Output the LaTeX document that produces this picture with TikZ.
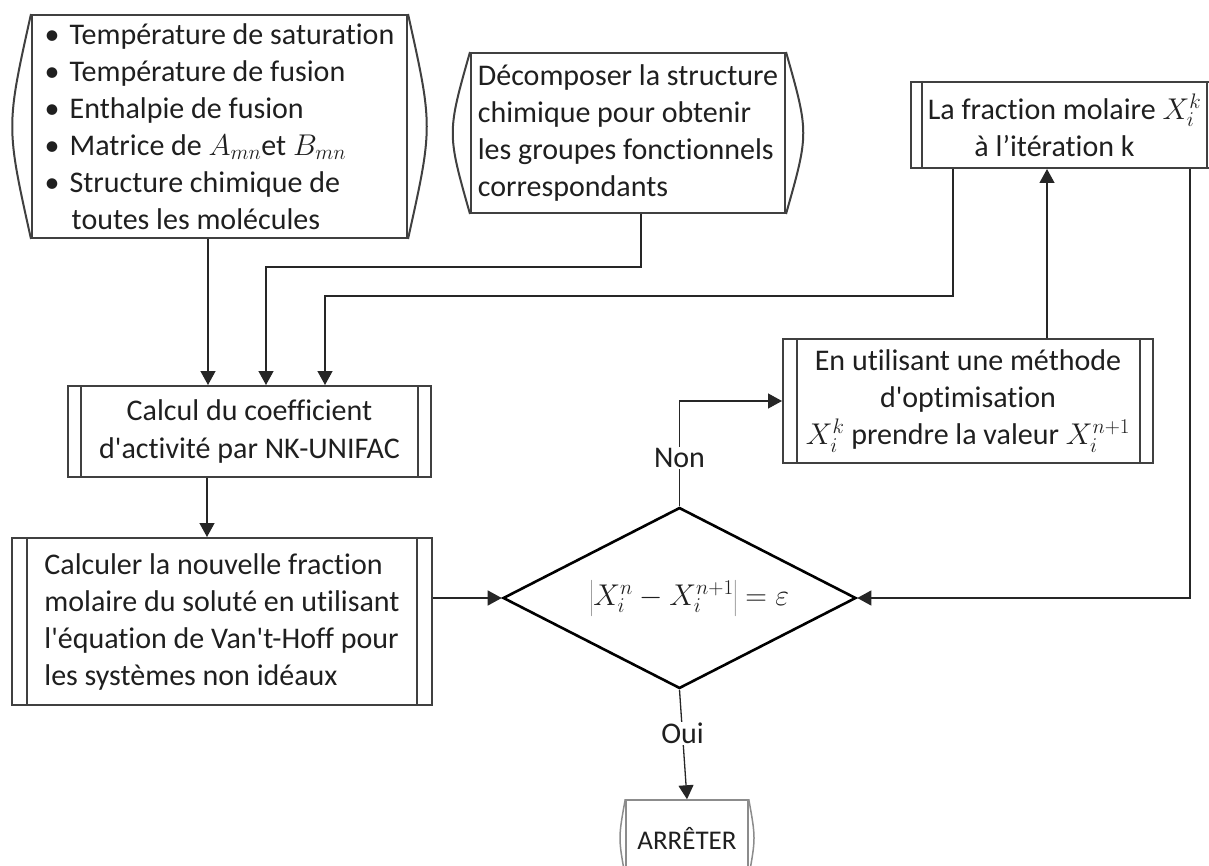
\RequirePackage{fix-cm}
\documentclass[tikz,border=0pt]{standalone}
\usepackage{fontspec}
\setmainfont{Carlito}[Ligatures={TeXOff,CommonOff}]
\usetikzlibrary{arrows.meta,shapes.geometric,calc}
\newcommand\curvesides[3]{%
  \draw[#3] (#1.north west) .. controls ([xshift=-#2]#1.west) .. (#1.south west);
  \draw[#3] (#1.north east) .. controls ([xshift=#2]#1.east) .. (#1.south east);}
\newcommand\pbars[3]{%
  \draw[#3] ([xshift=#2]#1.north west) -- ([xshift=#2]#1.south west)
            ([xshift=-#2]#1.north east) -- ([xshift=-#2]#1.south east);}
\begin{document}
\begin{tikzpicture}[x=1pt,y=-1pt,
  txt/.style={font=\fontsize{30}{37}\selectfont,text=black!88},
  box/.style={txt,draw=black!75,line width=2pt,rectangle,inner sep=0pt},
  edge/.style={draw=black!75,line width=2pt},
  dia/.style={txt,draw=black,line width=2.6pt,shape=diamond,inner sep=0pt,aspect=1.95,
    minimum width=353pt,minimum height=181pt},
  arr/.style={draw=black!85,line width=1.3pt,-{Triangle[length=14pt,width=15pt]}},
  lab/.style={txt,fill=white,inner sep=1pt}]
\useasboundingbox (0,0) rectangle (1209,866);
\clip (0,0) rectangle (1209,866);

% nodes
\node[box,minimum width=375pt,minimum height=223pt,align=left] (in1) at (219.5,126.5)
  {\textbullet\hspace{10pt}Température de saturation\\
   \textbullet\hspace{10pt}Température de fusion\\
   \textbullet\hspace{10pt}Enthalpie de fusion\\
   \textbullet\hspace{10pt}Matrice de $A_{mn}$et $B_{mn}$\\
   \textbullet\hspace{10pt}Structure chimique de\\
   \hspace*{27pt}toutes les molécules};
\curvesides{in1}{25pt}{edge}

\node[box,minimum width=314pt,minimum height=160pt,align=left] (dec) at (628,133)
  {Décomposer la structure\\chimique pour obtenir\\les groupes fonctionnels\\correspondants};
\curvesides{dec}{23pt}{edge}

\node[box,minimum width=307pt,minimum height=86pt,align=center] (frac) at (1064.5,125)
  {La fraction molaire $X_i^k$\\à l’itération k\hspace*{20pt}};
\pbars{frac}{12pt}{edge}

\node[box,minimum width=363pt,minimum height=91pt,align=center] (calc) at (249.5,431.5)
  {Calcul du coefficient\\d'activité par NK-UNIFAC};
\pbars{calc}{14pt}{edge}

\node[box,minimum width=370pt,minimum height=124pt,align=center] (opt) at (968,401)
  {En utilisant une méthode\\d'optimisation\hspace*{54pt}\\$X_i^k$ prendre la valeur $X_i^{n+1}$};
\pbars{opt}{14.5pt}{edge}

\node[box,minimum width=420pt,minimum height=167pt,align=left] (new) at (222,621.5)
  {Calculer la nouvelle fraction\\molaire du soluté en utilisant\\l'équation de Van't-Hoff pour\\les systèmes non idéaux};
\pbars{new}{16pt}{edge}

\node[dia] (dia) at (679.5,598)
  {\hspace*{20pt}$\left|X_i^n - X_i^{n+1}\right| = \varepsilon$};

\node[box,draw=black!45,line width=1.5pt,minimum width=122pt,minimum height=76pt,
  font=\fontsize{27}{33}\selectfont] (stop) at (687,838) {ARRÊTER};
\curvesides{stop}{7pt}{draw=black!45,line width=1.5pt}

% bend coordinates
\coordinate (i1) at (208,0);
\coordinate (m1) at (207,0);
\coordinate (j1) at (641,267);
\coordinate (j2) at (266,267);
\coordinate (k1) at (953,296);
\coordinate (k2) at (325,296);
\coordinate (u1) at (1047,0);
\coordinate (r1) at (1190,598);

% connectors
\draw[arr] (in1.south -| i1) -- (calc.north -| i1);
\draw[arr] (dec.south -| j1) -- (j1) -- (j2) -- (calc.north -| j2);
\draw[arr] (frac.south -| k1) -- (k1) -- (k2) -- (calc.north -| k2);
\draw[arr] (opt.north -| u1) -- (frac.south -| u1);
\draw[arr] (frac.south -| r1) -- (r1) -- (dia.east);
\draw[arr] (dia.north) |- node[lab,pos=0.23] {Non} (opt.west);
\draw[arr] (calc.south -| m1) -- (new.north -| m1);
\draw[arr] (new.east |- dia.west) -- (dia.west);
\draw[arr] (dia.south) -- node[lab,pos=0.4] {Oui} (stop.north);
\end{tikzpicture}
\end{document}
